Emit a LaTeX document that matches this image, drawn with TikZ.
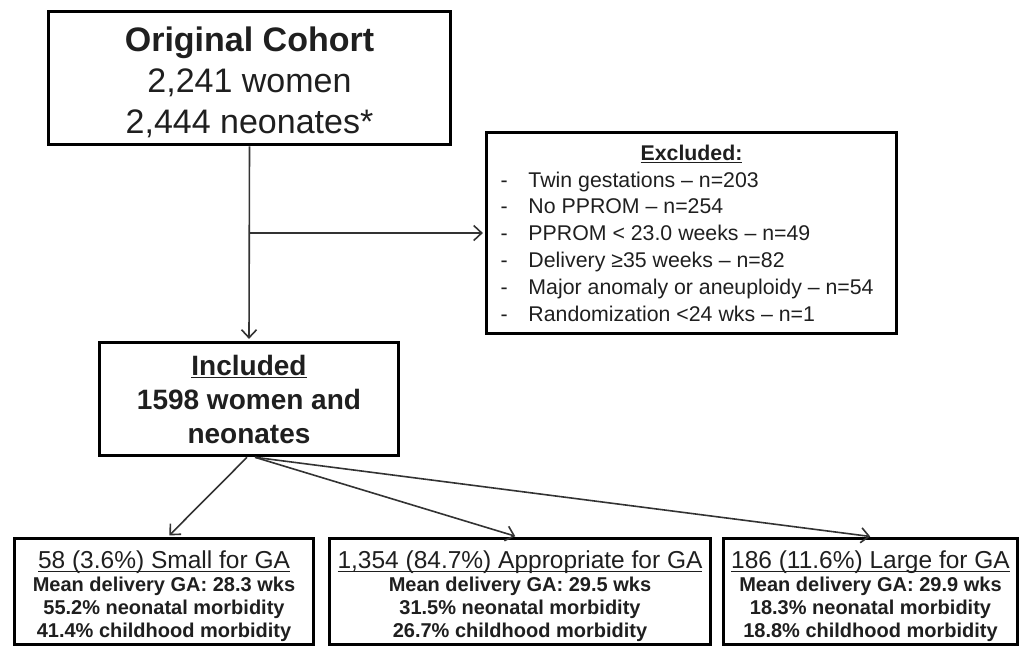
\documentclass[tikz,border=0pt]{standalone}
\usepackage{fontspec}
\setmainfont{Liberation Sans}
\usetikzlibrary{arrows.meta}
\newcommand\myul[1]{\setbox0\hbox{#1}\rlap{\rule[-3.2pt]{\wd0}{1.3pt}}\box0}
\newcommand\exitem[1]{\makebox[28pt][l]{-}#1}
\begin{document}
\begin{tikzpicture}[x=1pt,y=-1pt,
  box/.style={draw=black,line width=3.6pt,inner sep=0pt,align=center,text=black!88},
  conn/.style={line width=1.6pt,draw=black!80,shorten >=1.8pt,
    -{Straight Barb[length=8pt,width=15pt,line width=1.6pt]}},
  gabox/.style={box,minimum height=106pt,font=\bfseries\fontsize{20}{23}\selectfont}]
\useasboundingbox (0,0) rectangle (1021,649);
\node[box,minimum width=402pt,minimum height=133pt,font=\fontsize{34}{41}\selectfont] (orig) at (249.5,78)
  {\rule{0pt}{33pt}\textbf{Original Cohort}\\2,241 women\\2,444 neonates*};
\node[box,align=left,inner xsep=14pt,minimum height=201pt,font=\fontsize{21.3}{26.8}\selectfont] (excl) at (691.5,233)
  {\makebox[382pt]{\bfseries\myul{Excluded:}}\\
   \exitem{Twin gestations – n=203}\\
   \exitem{No PPROM – n=254}\\
   \exitem{PPROM < 23.0 weeks – n=49}\\
   \exitem{Delivery ≥35 weeks – n=82}\\
   \exitem{Major anomaly or aneuploidy – n=54}\\
   \exitem{Randomization <24 wks – n=1}};
\node[box,minimum width=299pt,minimum height=113pt,font=\bfseries\fontsize{28}{34}\selectfont] (incl) at (249,399)
  {\myul{Included}\\1598 women and\\neonates};
\node[gabox,minimum width=299pt] (sga) at (164,591.5)
  {{\mdseries\fontsize{24.5}{25}\selectfont\rule{0pt}{28pt}\myul{58 (3.6\%) Small for GA}}\\
   Mean delivery GA: 28.3 wks\\55.2\% neonatal morbidity\\41.4\% childhood morbidity};
\node[gabox,minimum width=381pt] (aga) at (520,591.5)
  {{\mdseries\fontsize{24.5}{25}\selectfont\rule{0pt}{28pt}\myul{1,354 (84.7\%) Appropriate for GA}}\\
   Mean delivery GA: 29.5 wks\\31.5\% neonatal morbidity\\26.7\% childhood morbidity};
\node[gabox,minimum width=294pt] (lga) at (870.5,591.5)
  {{\mdseries\fontsize{24.5}{25}\selectfont\rule{0pt}{28pt}\myul{186 (11.6\%) Large for GA}}\\
   Mean delivery GA: 29.9 wks\\18.3\% neonatal morbidity\\18.8\% childhood morbidity};
\coordinate (br) at (249.5,233);
\draw[conn] (orig.south) -- (incl.north);
\draw[conn] (br) -- (excl.west);
\draw[conn] ([xshift=-2pt]incl.south) -- ([xshift=4pt]sga.north);
\draw[conn] ([xshift=6pt]incl.south) -- ([xshift=-3pt]aga.north);
\draw[conn] ([xshift=6pt]incl.south) -- ([xshift=1.5pt]lga.north);
\end{tikzpicture}
\end{document}
